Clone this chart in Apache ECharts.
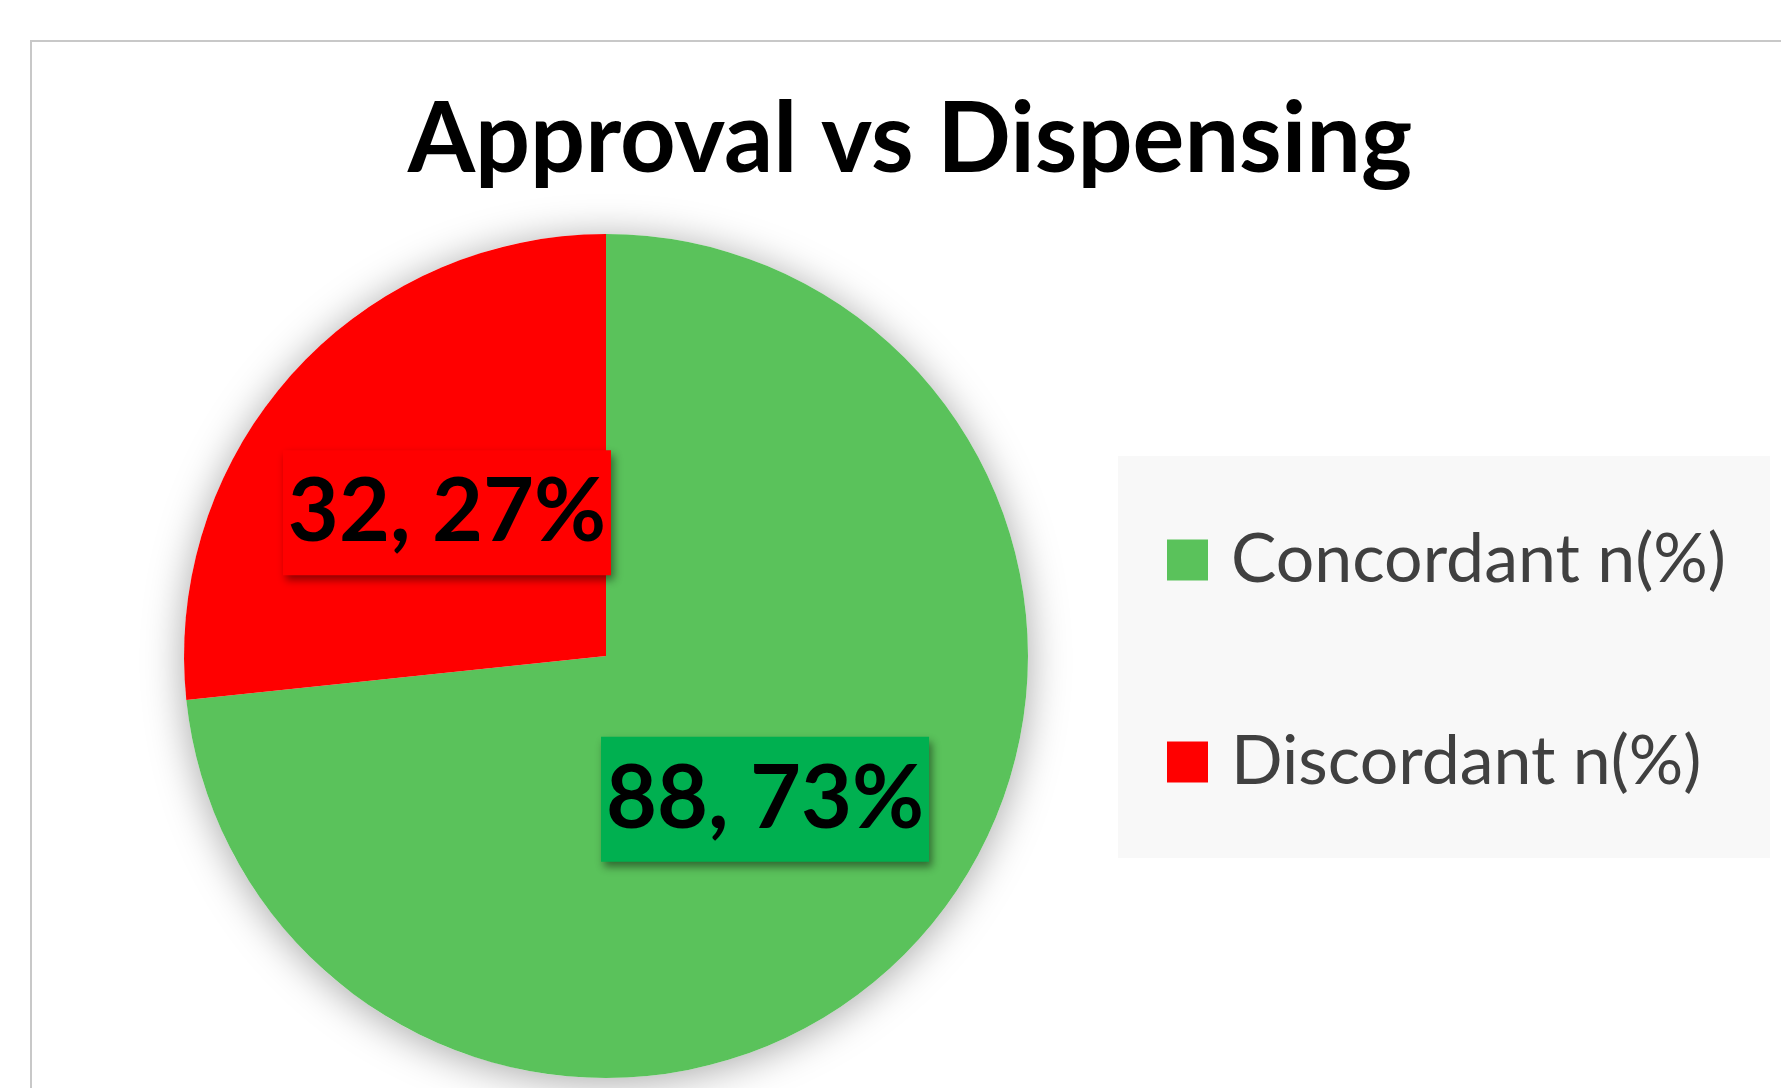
<!DOCTYPE html>
<html>
<head>
<meta charset="utf-8">
<script src="https://cdn.jsdelivr.net/npm/echarts@6/dist/echarts.min.js"></script>
<style>
html,body{margin:0;padding:0;background:#fff;}
#chart{width:1781px;height:1088px;}
</style>
</head>
<body>
<div id="chart"></div>
<script>
const titleText = 'Approval vs Dispensing';
const categories = ['Concordant n(%)', 'Discordant n(%)'];
const counts = [88, 32];
const percents = [73, 27];
const sliceColors = ['#5AC25B', '#FF0000'];
const labelBoxColors = ['#00B050', '#FF0000'];

const total = counts.reduce((a, b) => a + b, 0);

const chart = echarts.init(document.getElementById('chart'), null, {renderer: 'canvas'});

const option = {
  backgroundColor: '#ffffff',
  animation: false,
  title: {
    text: titleText,
    left: 905,
    textAlign: 'center',
    top: 87,
    textStyle: {
      fontFamily: 'Lato',
      fontWeight: 'bold',
      fontSize: 97,
      color: '#000000'
    }
  },
  graphic: [
    {
      type: 'rect', z: -10, silent: true,
      shape: {x: 31, y: 41, width: 1800, height: 1100},
      style: {fill: '#ffffff', stroke: '#C8C8C8', lineWidth: 2}
    },
    {
      type: 'rect', z: -5, silent: true,
      shape: {x: 1118, y: 456, width: 652, height: 402},
      style: {fill: '#F8F8F8'}
    }
  ],
  legend: {
    orient: 'vertical',
    left: 1167,
    top: 526,
    padding: 0,
    itemWidth: 41,
    itemHeight: 41,
    itemGap: 134,
    icon: 'rect',
    data: categories,
    textStyle: {
      fontFamily: 'Lato',
      fontSize: 68,
      color: '#404040',
      lineHeight: 41,
      padding: [0, 0, 0, 18]
    }
  },
  series: [
    {
      type: 'pie',
      silent: true,
      center: [606, 656],
      radius: 422,
      z: 1,
      label: {show: false},
      labelLine: {show: false},
      itemStyle: {
        color: '#ffffff',
        shadowBlur: 40,
        shadowColor: 'rgba(0,0,0,0.35)',
        shadowOffsetX: 0,
        shadowOffsetY: 4
      },
      data: [{value: total, name: 'shadow'}]
    },
    {
      type: 'pie',
      center: [606, 656],
      radius: 422,
      startAngle: 90,
      clockwise: true,
      z: 2,
      itemStyle: {borderWidth: 0},
      labelLine: {show: false},
      label: {
        show: true,
        position: 'inside',
        fontFamily: 'Lato',
        fontWeight: 'bold',
        fontSize: 88,
        color: '#000000',
        width: 328,
        height: 125,
        lineHeight: 125,
        align: 'center',
        verticalAlign: 'middle',
        padding: 0,
        shadowColor: 'rgba(0,0,0,0.45)',
        shadowBlur: 8,
        shadowOffsetX: 3,
        shadowOffsetY: 5,
        formatter: function (p) {
          return '{a|' + counts[p.dataIndex] + ', ' + percents[p.dataIndex] + '%}';
        },
        rich: {
          a: {
            fontFamily: 'Lato',
            fontWeight: 'bold',
            fontSize: 88,
            color: '#000000',
            lineHeight: 113,
            padding: [12, 0, 0, 0]
          }
        }
      },
      data: categories.map((c, i) => ({
        name: c,
        value: counts[i],
        itemStyle: {color: sliceColors[i]},
        label: {backgroundColor: labelBoxColors[i]}
      }))
    }
  ]
};
chart.setOption(option);
</script>
</body>
</html>
